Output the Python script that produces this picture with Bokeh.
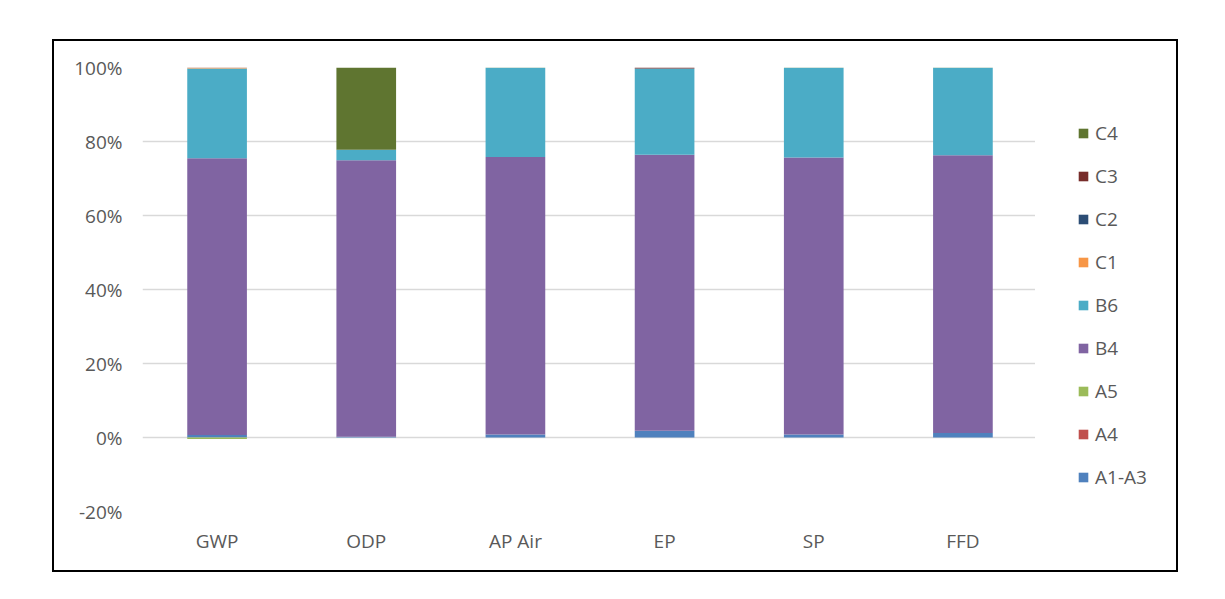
from bokeh.plotting import figure
from bokeh.models import (Range1d, FactorRange, NumeralTickFormatter, FixedTicker, Legend,
                          LegendItem, ColumnDataSource, Spacer)
from bokeh.layouts import column, row
from bokeh.embed import file_html
from bokeh.resources import INLINE

categories = ["GWP", "ODP", "AP Air", "EP", "SP", "FFD"]
series_names = ["A1-A3", "A4", "A5", "B4", "B6", "C1", "C2", "C3", "C4"]
colors = ["#4F81BD", "#C0504D", "#9BBB59", "#8064A2", "#4BACC6",
          "#F79646", "#2C4D75", "#772C2A", "#5F7530"]

# shares in percent
a1_a3 = [0.7, 0.2, 0.8, 1.8, 0.8, 1.2]
a4 = [0.0, 0.0, 0.0, 0.0, 0.0, 0.0]
a5 = [-0.4, 0.0, 0.0, 0.0, 0.0, 0.0]
b4 = [74.8, 74.7, 75.0, 74.6, 74.9, 75.1]
b6 = [24.2, 2.9, 24.1, 23.3, 24.2, 23.6]
c1 = [0.2, 0.0, 0.0, 0.0, 0.0, 0.0]
c2 = [0.0, 0.0, 0.0, 0.0, 0.0, 0.0]
c3 = [0.1, 0.0, 0.0, 0.3, 0.0, 0.0]
c4 = [0.0, 22.2, 0.1, 0.0, 0.1, 0.1]

y_ticks = [-0.2, 0.0, 0.2, 0.4, 0.6, 0.8, 1.0]

all_series = [a1_a3, a4, a5, b4, b6, c1, c2, c3, c4]

data = {"x": categories}
pos_keys, neg_keys = [], []
for i, vals in enumerate(all_series):
    pk, nk = f"p{i}", f"n{i}"
    data[pk] = [max(v, 0) / 100.0 for v in vals]
    data[nk] = [min(v, 0) / 100.0 for v in vals]
    pos_keys.append(pk)
    neg_keys.append(nk)
src = ColumnDataSource(data)

FONT = "Open Sans"
TXT = "#595959"
H = 533

p = figure(x_range=categories, y_range=Range1d(-0.2, 1.0),
           width=983, height=H, output_backend="svg", toolbar_location=None,
           min_border_left=88, min_border_right=0, min_border_top=26,
           min_border_bottom=H - 26 - 444,
           styles={"border": "2px solid black", "border-right": "none"})

p.vbar_stack(pos_keys, x="x", width=0.4, fill_color=colors,
             line_color=None, source=src)
p.vbar_stack(neg_keys, x="x", width=0.4, fill_color=colors,
             line_color=None, source=src)

p.outline_line_color = None
p.xgrid.grid_line_color = None
p.ygrid.grid_line_color = "#D9D9D9"
p.ygrid.grid_line_width = 1.5

p.yaxis.ticker = FixedTicker(ticks=y_ticks)
p.yaxis.formatter = NumeralTickFormatter(format="0%")

for ax in (p.xaxis, p.yaxis):
    ax.axis_line_color = None
    ax.major_tick_line_color = None
    ax.minor_tick_line_color = None
    ax.major_tick_out = 0
    ax.major_label_text_font = FONT
    ax.major_label_text_font_size = "19px"
    ax.major_label_text_color = TXT
p.yaxis.major_label_standoff = 20
p.xaxis.major_label_standoff = 16

# legend panel: same stacks (zero width), viewed through a y-window that shows none
q = figure(width=143, height=H, output_backend="svg", toolbar_location=None,
           x_range=FactorRange(factors=categories), y_range=Range1d(50, 60),
           x_axis_type=None, y_axis_type=None,
           min_border=0, min_border_left=0, min_border_right=0,
           min_border_top=0, min_border_bottom=0,
           styles={"border": "2px solid black", "border-left": "none"})
q.xgrid.grid_line_color = None
q.ygrid.grid_line_color = None
q.outline_line_color = None

legend_r = q.vbar_stack(pos_keys, x="x", width=0.0, fill_color=colors,
                        line_color=None, source=src)

items = [LegendItem(label=name, renderers=[r])
         for name, r in zip(series_names, legend_r)]
items = items[::-1]
legend = Legend(items=items, location=(42, 21), padding=0, margin=0,
                border_line_color=None, background_fill_alpha=0,
                glyph_width=12, glyph_height=12, label_height=24,
                spacing=17, label_standoff=6,
                label_text_font=FONT, label_text_font_size="19px",
                label_text_color=TXT)
q.add_layout(legend)

layout = column(Spacer(height=39), row(Spacer(width=52), p, q))

open("out.html", "w").write(file_html(layout, INLINE))
